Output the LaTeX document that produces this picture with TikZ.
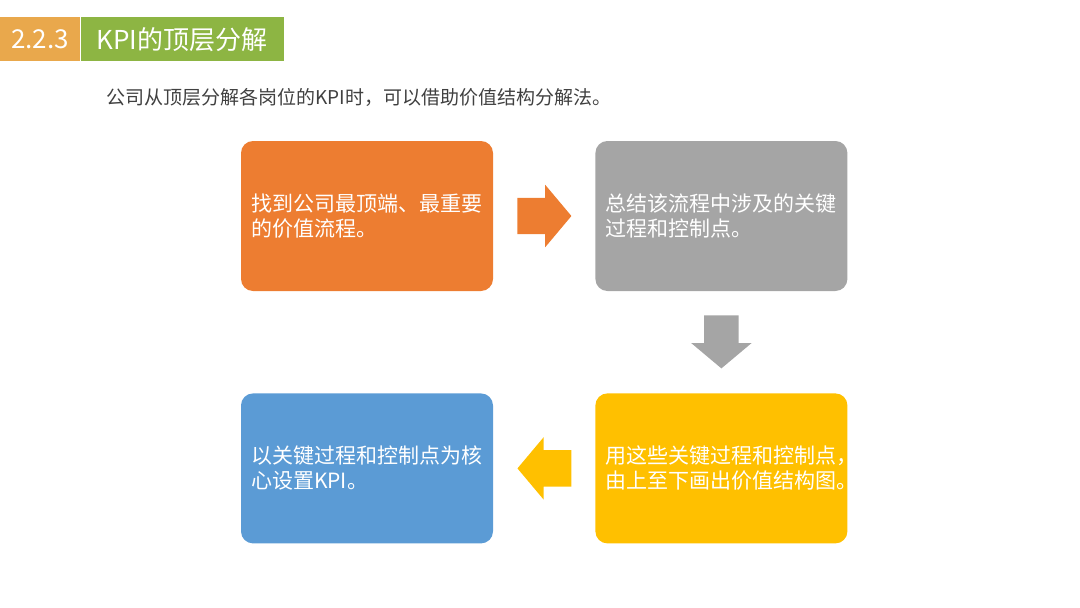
\documentclass[tikz,border=0pt]{standalone}
\usepackage{fontspec}
\setmainfont{Noto Sans CJK SC}
\usepackage{xcolor}
\usetikzlibrary{shapes.arrows, positioning}

\definecolor{hdorange}{HTML}{E9A84C}
\definecolor{hdgreen}{HTML}{8DB543}
\definecolor{boxorange}{HTML}{ED7D31}
\definecolor{boxgray}{HTML}{A5A5A5}
\definecolor{boxyellow}{HTML}{FFC000}
\definecolor{boxblue}{HTML}{5B9BD5}
\definecolor{subgray}{HTML}{404040}

\begin{document}
\begin{tikzpicture}[
  x = 1pt, y = -1pt,
  node distance = 102pt and 102pt,
  header/.style  = {rectangle, minimum height=44pt, inner sep=0pt, text=white,
                    font=\fontsize{26}{28}\selectfont},
  stepbox/.style = {rectangle, rounded corners=12pt, minimum width=252pt,
                    minimum height=150pt, text width=232pt, inner xsep=10pt,
                    align=left, text=white, font=\fontsize{21}{25}\selectfont},
  flow/.style    = {single arrow, single arrow head extend=13pt,
                    single arrow tip angle=100, minimum height=54pt,
                    inner xsep=0pt, inner ysep=18pt},
  flowdown/.style = {flow, shape border rotate=270, inner xsep=17pt, inner ysep=0pt,
                     minimum height=53pt},
]
  \useasboundingbox (0,0) rectangle (1080,608);

  % title bar
  \node[header, fill=hdorange, minimum width=80pt, anchor=north west] (secno) at (0,17) {2.2.3};
  \node[header, fill=hdgreen, minimum width=203pt, right=0pt of secno] (sectitle) {KPI的顶层分解};
  \node[anchor=west, text=subgray, font=\fontsize{19}{22}\selectfont] (intro) at (103,97)
    {公司从顶层分解各岗位的KPI时，可以借助价值结构分解法。};

  % the four steps
  \node[stepbox, fill=boxorange] (find) at (367,216) {找到公司最顶端、最重要\\的价值流程。};
  \node[stepbox, fill=boxgray, right=of find]   (sum)  {总结该流程中涉及的关键\\过程和控制点。};
  \node[stepbox, fill=boxyellow, below=of sum]  (draw) {用这些关键过程和控制点，\\由上至下画出价值结构图。};
  \node[stepbox, fill=boxblue, left=of draw]    (kpi)  {以关键过程和控制点为核\\心设置KPI。};

  % block arrows
  \node[flow, fill=boxorange, anchor=tail] (a1) at ([xshift=24pt]find.east) {};
  \node[flowdown, fill=boxgray, anchor=tail] (a2) at ([yshift=-24pt]sum.south) {};
  \node[flow, fill=boxyellow, shape border rotate=180, anchor=tip] (a3) at ([xshift=24pt]kpi.east) {};
\end{tikzpicture}
\end{document}
